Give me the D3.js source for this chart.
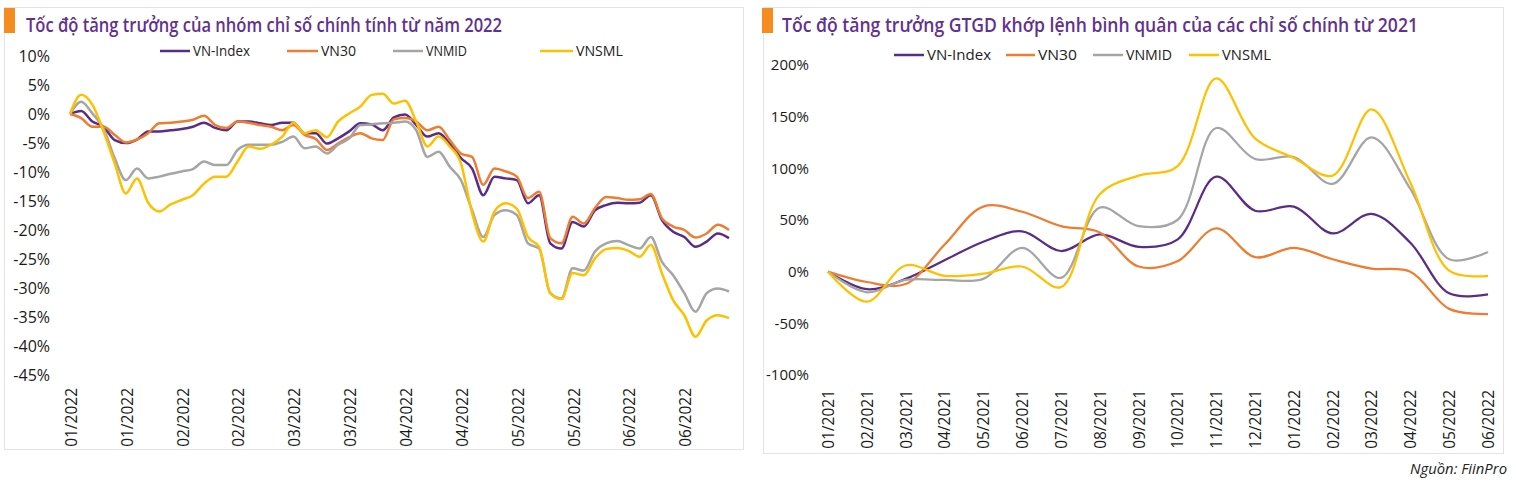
<!DOCTYPE html>
<html>
<head>
<meta charset="utf-8">
<script src="https://cdn.jsdelivr.net/npm/d3@7"></script>
<style>
  body { margin: 0; background: #fff; }
  svg { display: block; }
</style>
</head>
<body>
<svg id="chart" width="1516" height="486"></svg>
<script>
// left chart: index performance since start of 2022 (every 2nd trading session)
var dateLabels = ["01/2022","01/2022","02/2022","02/2022","03/2022","03/2022",
                  "04/2022","04/2022","05/2022","05/2022","06/2022","06/2022"];
var vnIndex = [0, 0.5, -1.3, -2.2, -4.5, -5.0, -4.4, -3.0, -3.0, -2.8, -2.6, -2.2, -1.5, -2.4, -2.8,
               -1.3, -1.3, -1.6, -1.9, -1.5, -1.5, -3.3, -3.3, -5.1, -4.2, -3.0, -1.6, -1.8, -2.8, -0.6,
               -0.1, -1.9, -3.9, -3.3, -5.1, -7.6, -9.4, -14.0, -10.8, -11.1, -11.4, -15.4, -14.0, -22.3, -23.2,
               -18.6, -19.4, -16.6, -15.7, -15.3, -15.4, -15.3, -14.0, -18.3, -20.3, -21.2, -22.9, -22.0, -20.6, -21.4];
var vn30 = [0, -0.7, -2.2, -2.2, -3.6, -4.9, -4.4, -3.3, -1.6, -1.5, -1.3, -1.0, -0.3, -1.9, -2.4,
            -1.3, -1.5, -1.9, -2.2, -2.8, -1.9, -3.6, -4.3, -6.2, -5.1, -4.0, -3.3, -4.2, -4.5, -0.9,
            -0.7, -1.3, -2.8, -2.2, -4.5, -6.8, -7.4, -12.2, -9.4, -9.9, -10.8, -14.5, -13.4, -21.4, -22.3,
            -17.7, -18.9, -16.2, -14.3, -14.5, -14.8, -14.7, -13.8, -18.0, -19.4, -20.0, -21.3, -20.6, -19.1, -20.0];
var vnMid = [0, 2.1, 0.1, -2.5, -7.6, -11.4, -9.4, -11.1, -10.8, -10.3, -9.9, -9.5, -8.2, -8.8, -8.8,
             -6.2, -5.3, -5.3, -5.3, -4.8, -3.9, -5.9, -5.6, -6.8, -5.3, -4.2, -1.9, -1.8, -1.6, -1.5,
             -1.3, -2.8, -7.4, -6.5, -9.1, -11.4, -16.6, -21.2, -17.4, -16.6, -17.4, -22.3, -23.2, -30.9, -31.8,
             -26.6, -27.0, -23.7, -22.3, -21.9, -22.6, -23.2, -21.2, -25.5, -27.8, -30.9, -34.1, -30.9, -30.1, -30.6];
var vnSml = [0, 3.3, 1.6, -3.0, -8.5, -13.7, -11.1, -15.3, -16.8, -15.6, -14.8, -14.0, -12.0, -10.8, -10.8,
             -8.2, -5.6, -6.0, -5.3, -3.9, -1.5, -3.3, -2.8, -4.0, -1.3, 0.1, 1.3, 3.3, 3.5, 1.8,
             2.3, -1.3, -5.6, -3.9, -5.6, -8.5, -17.1, -22.0, -16.8, -15.4, -16.3, -21.2, -22.9, -30.9, -31.9,
             -27.4, -27.8, -24.9, -23.3, -23.1, -23.6, -24.6, -22.6, -27.5, -32.1, -34.7, -38.4, -35.6, -34.7, -35.2];
var leftTicks = [10, 5, 0, -5, -10, -15, -20, -25, -30, -35, -40, -45];

// right chart: growth of average matched trading value since 2021
var months = ["01/2021","02/2021","03/2021","04/2021","05/2021","06/2021","07/2021","08/2021","09/2021",
              "10/2021","11/2021","12/2021","01/2022","02/2022","03/2022","04/2022","05/2022","06/2022"];
var vnIndexVal = [0, -17, -7, 11, 29, 39, 20, 36, 24, 31, 92, 59, 63, 37, 56, 28, -21, -22];
var vn30Val    = [0, -10, -12, 26, 63, 58, 44, 38, 5, 10, 42, 14, 23, 12, 3, 0, -36, -41];
var vnMidVal   = [0, -20, -8, -8, -7, 23, -6, 62, 44, 50, 139, 109, 111, 85, 130, 80, 12, 19];
var vnSmlVal   = [0, -29, 6, -4, -2, 5, -15, 75, 93, 102, 187, 129, 110, 93, 157, 86, 1, -4];
var rightTicks = [200, 150, 100, 50, 0, -50, -100];

var seriesNames = ["VN-Index", "VN30", "VNMID", "VNSML"];
var colors = ["#5b2c86", "#ed7d31", "#a5a5a5", "#ffc000"];

var svg = d3.select("#chart");
var font = "'Open Sans', sans-serif";

//panel frames
svg.append("rect").attr("x", 4.5).attr("y", 7.5).attr("width", 739).attr("height", 442)
    .attr("fill", "none").attr("stroke", "#e3e3e3");
svg.append("rect").attr("x", 763.5).attr("y", 7.5).attr("width", 740).attr("height", 446)
    .attr("fill", "none").attr("stroke", "#e3e3e3");

//titles with orange marker
function title(x, barX, text, len) {
    svg.append("rect").attr("x", barX).attr("y", 8).attr("width", 11).attr("height", 25).attr("fill", "#f68b1f");
    svg.append("text")
        .attr("x", x).attr("y", 32)
        .attr("font-family", font)
        .attr("font-size", "20px")
        .attr("font-weight", 600)
        .attr("fill", "#62318f")
        .attr("textLength", len)
        .attr("lengthAdjust", "spacingAndGlyphs")
        .text(text);
}
title(26, 4, "Tốc độ tăng trưởng của nhóm chỉ số chính tính từ năm 2022", 476);
title(782, 762, "Tốc độ tăng trưởng GTGD khớp lệnh bình quân của các chỉ số chính từ 2021", 636);

//legend
function legend(items, y, fontSize) {
    items.forEach(function (it, i) {
        svg.append("line").attr("x1", it.x1).attr("x2", it.x2).attr("y1", y).attr("y2", y)
            .attr("stroke", colors[i]).attr("stroke-width", 2.5);
        svg.append("text").attr("x", it.x2 + 3).attr("y", y).attr("dy", "0.35em")
            .attr("font-family", font).attr("font-size", fontSize).attr("fill", "#222")
            .attr("textLength", it.len).attr("lengthAdjust", "spacingAndGlyphs")
            .text(seriesNames[i]);
    });
}
legend([{x1: 160, x2: 190, len: 57}, {x1: 287, x2: 318, len: 35}, {x1: 393, x2: 423, len: 41}, {x1: 540, x2: 573, len: 47}], 51, "14px");
legend([{x1: 894, x2: 924, len: 64}, {x1: 1006, x2: 1035, len: 39}, {x1: 1093, x2: 1123, len: 46}, {x1: 1189, x2: 1219, len: 49}], 55, "15px");

function styleAxis(g, size) {
    g.select(".domain").remove();
    g.selectAll("line").remove();
    g.attr("font-family", font).attr("font-size", size);
    g.selectAll("text").attr("fill", "#1a1a1a");
}

var line = function (x, y, curve) {
    return d3.line().x(function (d, i) { return x(i); }).y(function (d) { return y(d); }).curve(curve);
};

// ---- left chart ----
var xL = d3.scaleLinear().domain([0, vnIndex.length - 1]).range([70, 729]);
var yL = d3.scaleLinear().domain([-45, 10]).range([375, 56]);

svg.append("g").attr("transform", "translate(50,0)")
    .call(d3.axisLeft(yL).tickValues(leftTicks).tickSize(0).tickPadding(0).tickFormat(function (d) { return d + "%"; }))
    .call(styleAxis, "16px");

svg.append("g").attr("transform", "translate(1,388)")
    .call(d3.axisBottom(xL).tickValues(dateLabels.map(function (d, i) { return i * 5; }))
        .tickFormat(function (d) { return dateLabels[d / 5]; }))
    .call(styleAxis, "15.5px")
    .selectAll("text")
    .attr("transform", "rotate(-90)").attr("text-anchor", "end").attr("x", 0).attr("y", 0).attr("dy", "0.35em");

[vnIndex, vn30, vnMid, vnSml].forEach(function (s, i) {
    svg.append("path").datum(s)
        .attr("fill", "none").attr("stroke", colors[i]).attr("stroke-width", 2.5)
        .attr("stroke-linejoin", "round")
        .attr("d", line(xL, yL, d3.curveMonotoneX));
});

// ---- right chart ----
var xR = d3.scalePoint().domain(months).range([828, 1488]);
var xRi = function (i) { return xR(months[i]); };
var yR = d3.scaleLinear().domain([-100, 200]).range([375, 65]);

svg.append("g").attr("transform", "translate(809,0)")
    .call(d3.axisLeft(yR).tickValues(rightTicks).tickSize(0).tickPadding(0).tickFormat(function (d) { return d + "%"; }))
    .call(styleAxis, "15px");

svg.append("g").attr("transform", "translate(0,390)")
    .call(d3.axisBottom(xR).tickSize(0))
    .call(styleAxis, "15.5px")
    .selectAll("text")
    .attr("transform", "rotate(-90)").attr("text-anchor", "end").attr("x", 0).attr("y", 0).attr("dy", "0.35em");

[vnIndexVal, vn30Val, vnMidVal, vnSmlVal].forEach(function (s, i) {
    svg.append("path").datum(s)
        .attr("fill", "none").attr("stroke", colors[i]).attr("stroke-width", 2.25)
        .attr("d", line(xRi, yR, d3.curveCatmullRom.alpha(0.5)));
});

//source
svg.append("text").attr("x", 1507).attr("y", 474).attr("text-anchor", "end")
    .attr("font-family", font).attr("font-size", "15px").attr("font-style", "italic").attr("fill", "#222")
    .attr("textLength", 97).attr("lengthAdjust", "spacingAndGlyphs")
    .text("Nguồn: FiinPro");
</script>
</body>
</html>
